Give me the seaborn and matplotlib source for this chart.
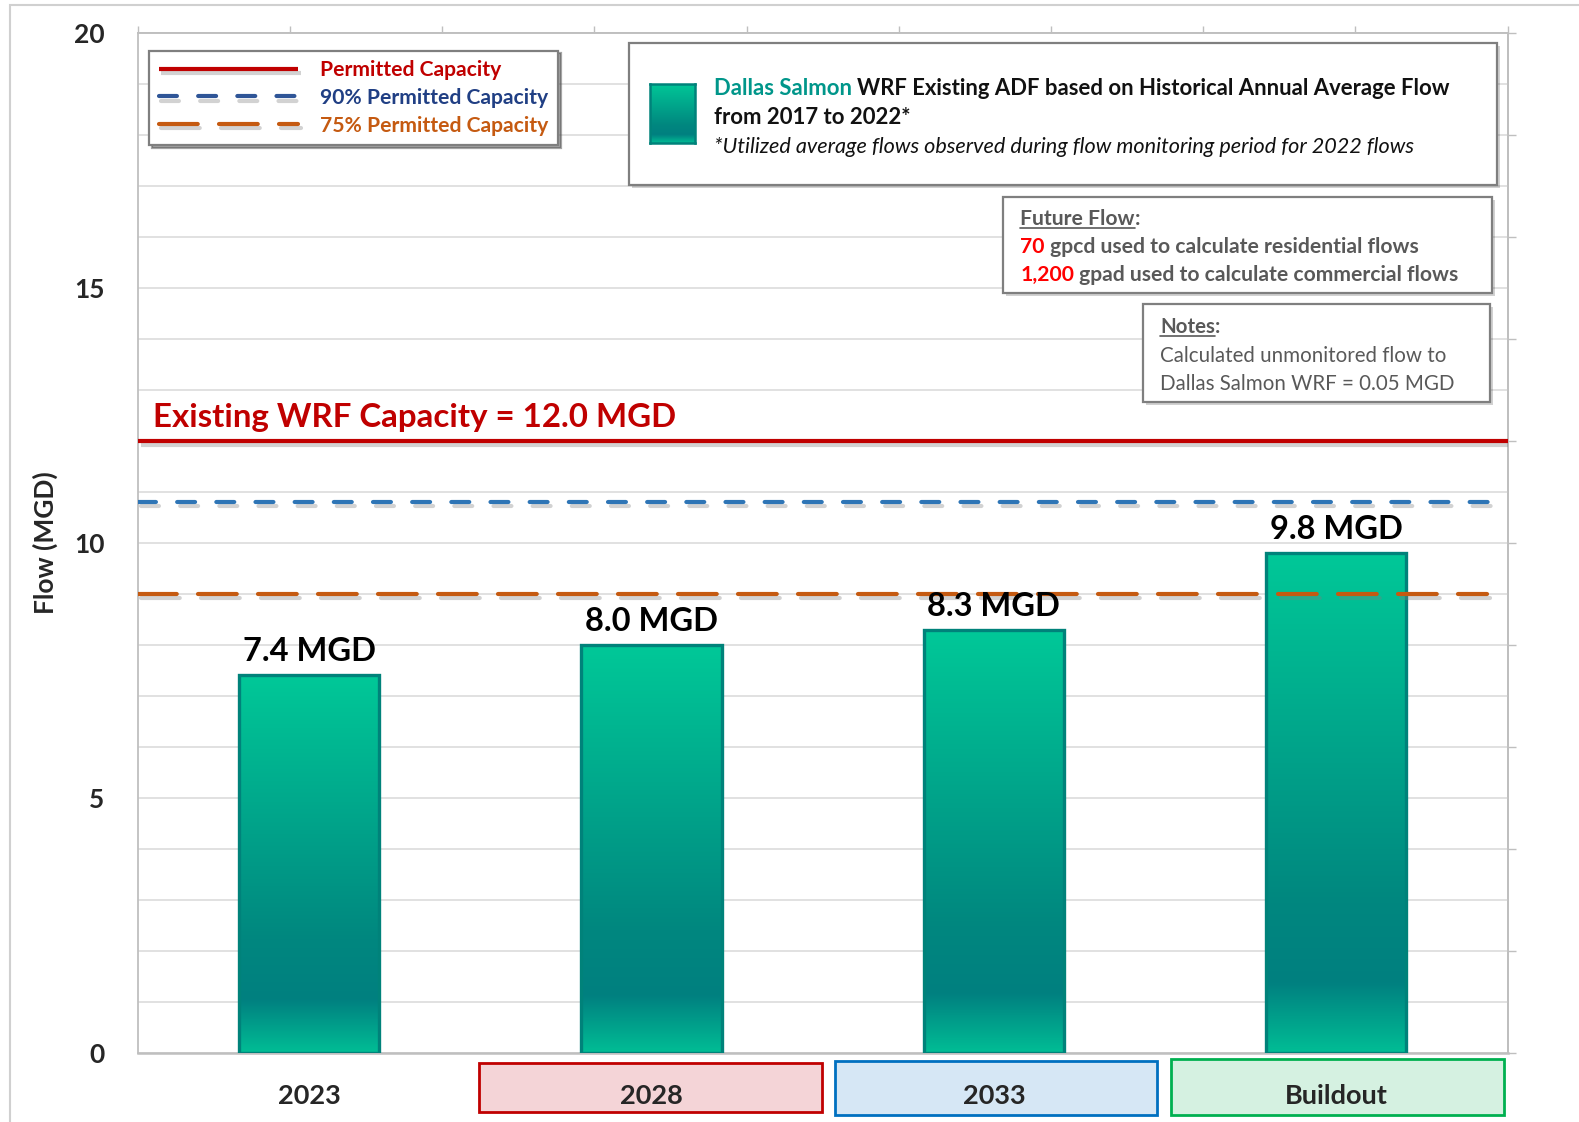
import numpy as np
import pandas as pd
import matplotlib
matplotlib.use("Agg")
import matplotlib.pyplot as plt
import matplotlib.patheffects as pe
from matplotlib.colors import LinearSegmentedColormap
from matplotlib.patches import Rectangle
from matplotlib.ticker import MultipleLocator, FixedLocator, NullFormatter
import matplotlib.transforms as mtransforms
import seaborn as sns

# ---- data -------------------------------------------------------------
periods = ["2023", "2028", "2033", "Buildout"]
flow_mgd = [7.4, 8.0, 8.3, 9.8]
capacity_names = ["Permitted Capacity", "90% Permitted Capacity", "75% Permitted Capacity"]
capacity_mgd = [12.0, 10.8, 9.0]
capacity_title = "Existing WRF Capacity = 12.0 MGD"
y_ticks = [0, 5, 10, 15, 20]

# ---- styling ----------------------------------------------------------
sns.set_theme(style="white")
plt.rcParams["font.family"] = ["Lato", "DejaVu Sans"]
plt.rcParams["font.weight"] = "bold"
plt.rcParams["axes.labelweight"] = "bold"

# layout grid: positions below are given on a 1568 x 1114 layout grid
GW, GH = 1568.0, 1114.0


def fx(px):
    return px / GW


def fy(py):
    return 1 - py / GH


fig = plt.figure(figsize=(15.79, 11.22), dpi=100)
ax = fig.add_axes([fx(137), fy(1045), (1497 - 137) / GW, (1045 - 33) / GH])

df = pd.DataFrame({"period": periods, "flow": flow_mgd})
sns.barplot(data=df, x="period", y="flow", ax=ax, width=0.41,
            color="#00B894", edgecolor="#00827A", linewidth=2.4,
            saturation=1, zorder=3)

# vertical teal gradient inside every bar
teal = LinearSegmentedColormap.from_list(
    "teal", [(0.0, "#00BD95"), (0.14, "#008080"), (0.30, "#00877F"), (1.0, "#00C898")])
grad = np.linspace(0, 1, 256).reshape(-1, 1)
for bar in ax.patches:
    x0, y0 = bar.get_x(), bar.get_y()
    w, h = bar.get_width(), bar.get_height()
    bar.set_facecolor("none")
    im = ax.imshow(grad, cmap=teal, origin="lower", aspect="auto",
                   extent=[x0, x0 + w, y0, y0 + h], zorder=2.9)
    im.set_clip_path(bar)

ax.set_xlim(-0.5, len(periods) - 0.5)
ax.set_ylim(0, 20)

# capacity reference lines
line_styles = [
    dict(color="#C00000", ls="-", xmax=1.0),
    dict(color="#2E75B6", ls=(0, (4.3, 5.1)), xmax=1.0),
    dict(color="#C55A11", ls=(0, (9.3, 5.1)), xmax=0.985),
]
shadow = [pe.SimpleLineShadow(offset=(2, -3), shadow_color="#7F7F7F", alpha=0.35),
          pe.Normal()]
handles = []
for name, val, st in zip(capacity_names, capacity_mgd, line_styles):
    ln = ax.axhline(val, xmin=0, xmax=st["xmax"], color=st["color"], ls=st["ls"],
                    lw=3.0, dash_capstyle="round", solid_capstyle="butt",
                    zorder=4, label=name, path_effects=shadow)
    handles.append(ln)

ax.text(0.011, capacity_mgd[0] + 0.27, capacity_title, transform=ax.get_yaxis_transform(),
        color="#C00000", fontsize=23.8, fontweight="bold", va="baseline", ha="left", zorder=6)

# value labels above bars
for bar, val in zip(ax.patches, flow_mgd):
    ax.annotate(f"{val:.1f} MGD", (bar.get_x() + bar.get_width() / 2, val),
                xytext=(0, 10), textcoords="offset points", ha="center", va="baseline",
                fontsize=23.5, fontweight="bold", color="black", zorder=6)

# axes, ticks and grid
ax.set_yticks(y_ticks, labels=[str(v) for v in y_ticks], fontweight="bold", fontsize=19)
ax.yaxis.set_minor_locator(MultipleLocator(1))
ax.grid(axis="y", which="both", color="#D9D9D9", lw=1.1, zorder=0)
ax.set_axisbelow(True)
ax.set_xlabel("")
ax.set_ylabel("Flow (MGD)", fontsize=19, fontweight="bold")
ax.yaxis.set_label_coords((58 - 137) / 1360, 0.5)
ax.tick_params(axis="y", which="both", length=0, pad=24)
ax.set_xticks(range(len(periods)), labels=periods, fontweight="bold", fontsize=19.5)
ax.xaxis.set_minor_locator(FixedLocator(np.arange(-0.5, len(periods), 1.0)))
ax.tick_params(axis="x", which="major", length=0, pad=23)
ax.tick_params(axis="x", which="minor", length=8, width=1, color="#BFBFBF")
for side, sp in ax.spines.items():
    sp.set_visible(True)
    sp.set_color("#BFBFBF")
    sp.set_linewidth(1.3)
ax.spines["bottom"].set_linewidth(1.8)

top = ax.secondary_xaxis("top")
top.set_xticks(np.linspace(-0.5, len(periods) - 0.5, 10))
top.xaxis.set_major_formatter(NullFormatter())
top.tick_params(length=5, width=1, color="#BFBFBF")
top.spines["top"].set_color("#BFBFBF")
right = ax.secondary_yaxis("right")
right.set_yticks(np.arange(0, 21, 2))
right.yaxis.set_major_formatter(NullFormatter())
right.tick_params(length=6, width=1, color="#BFBFBF")
right.spines["right"].set_color("#BFBFBF")

# coloured boxes behind the category labels
xbox = mtransforms.blended_transform_factory(ax.transData, ax.transAxes)
cat_boxes = [
    (1, 0.497, 1.497, -0.0584, -0.0099, "#F4D4D7", "#C00000"),
    (2, 1.535, 2.476, -0.0614, -0.0079, "#D6E7F5", "#0070C0"),
    (3, 2.518, 3.491, -0.0614, -0.0060, "#D5F1E1", "#00B050"),
]
for _, xa, xb, ya, yb, fc, ec in cat_boxes:
    ax.add_patch(Rectangle((xa, ya), xb - xa, yb - ya, transform=xbox, clip_on=False,
                           facecolor=fc, edgecolor=ec, lw=2.0, zorder=0.5))

# legend
leg = ax.legend(handles=handles, loc="upper left", bbox_to_anchor=(0.0081, 0.983),
                borderaxespad=0, frameon=True, fancybox=False, shadow=True,
                prop={"size": 15.2, "weight": "bold"}, handlelength=6.6,
                handletextpad=1.05, labelspacing=0.37, borderpad=0.45)
leg.get_frame().set_edgecolor("#7F7F7F")
leg.get_frame().set_linewidth(1.6)
for txt, col in zip(leg.get_texts(), ["#C00000", "#203F84", "#C55A11"]):
    txt.set_color(col)
leg.get_lines()[1].set_color("#2F5597")
leg.set_zorder(7)

# ---- annotation boxes --------------------------------------------------
fig.canvas.draw()
renderer = fig.canvas.get_renderer()
fig_w = fig.bbox.width


def note_box(x0, y0, x1, y1):
    fig.patches.append(Rectangle((fx(x0 + 3), fy(y1 + 3)), (x1 - x0) / GW, (y1 - y0) / GH,
                                 transform=fig.transFigure, facecolor="#000000",
                                 alpha=0.18, edgecolor="none", zorder=6.5))
    fig.patches.append(Rectangle((fx(x0), fy(y1)), (x1 - x0) / GW, (y1 - y0) / GH,
                                 transform=fig.transFigure, facecolor="white",
                                 edgecolor="#7F7F7F", lw=1.6, zorder=7))


def runs(x, y, pieces, size):
    """Draw consecutive text pieces on one baseline, each with its own style."""
    cur = fx(x)
    for text, style in pieces:
        st = dict(style)
        underline = st.pop("underline", False)
        st.setdefault("fontweight", "normal")
        t = fig.text(cur, fy(y), text, fontsize=size, va="baseline", ha="left",
                     zorder=8, **st)
        bb = t.get_window_extent(renderer)
        if underline:
            fig.lines.append(plt.Line2D([bb.x0 / fig_w, bb.x1 / fig_w], [fy(y + 3), fy(y + 3)],
                                        transform=fig.transFigure, color=st.get("color", "k"),
                                        lw=1.2, zorder=8))
        cur = bb.x1 / fig_w


note_box(625, 43, 1487, 184)
swatch = fig.add_axes([fx(645), fy(142), 45 / GW, 59 / GH], zorder=9)
swatch.imshow(grad, cmap=teal, origin="lower", aspect="auto", extent=[0, 1, 0, 1])
swatch.set_xticks([])
swatch.set_yticks([])
for sp in swatch.spines.values():
    sp.set_color("#00827A")
    sp.set_linewidth(1.8)

dark = {"color": "#111111", "fontweight": "bold"}
runs(709, 94, [("Dallas Salmon ", {"color": "#00968A", "fontweight": "bold"}),
               ("WRF Existing ADF based on Historical Annual Average Flow", dark)], 15.9)
runs(709, 123, [("from 2017 to 2022*", dark)], 15.9)
runs(709, 152, [("*Utilized average flows observed during flow monitoring period for 2022 flows",
                 {"color": "#111111", "style": "italic"})], 15.6)

gray = "#595959"
note_box(996, 196, 1482, 291)
runs(1013, 223, [("Future Flow", {"color": gray, "fontweight": "bold", "underline": True}),
                 (":", {"color": gray, "fontweight": "bold"})], 15.2)
runs(1013, 251, [("70", {"color": "#FF0000", "fontweight": "bold"}),
                 (" gpcd used to calculate residential flows", {"color": gray, "fontweight": "bold"})], 15.2)
runs(1013, 279, [("1,200", {"color": "#FF0000", "fontweight": "bold"}),
                 (" gpad used to calculate commercial flows", {"color": gray, "fontweight": "bold"})], 15.2)

note_box(1135, 302, 1480, 399)
runs(1152, 331, [("Notes", {"color": gray, "fontweight": "bold", "underline": True}),
                 (":", {"color": gray, "fontweight": "bold"})], 14.8)
runs(1152, 359, [("Calculated unmonitored flow to", {"color": gray})], 14.8)
runs(1152, 387, [("Dallas Salmon WRF = 0.05 MGD", {"color": gray})], 14.8)

# outer chart-area frame
fig.patches.append(Rectangle((fx(10), fy(1140)), (1600 - 10) / GW, (1140 - 5) / GH,
                             transform=fig.transFigure, facecolor="none",
                             edgecolor="#D0D0D0", lw=1.5, zorder=0))

fig.savefig("out.png", dpi=100)
